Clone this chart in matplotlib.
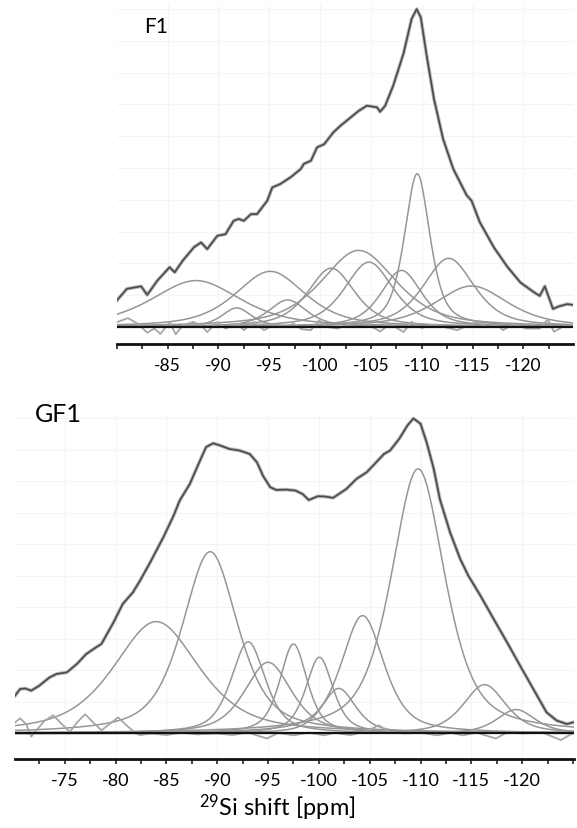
"""
29Si MAS NMR spectra of F1 and GF1 with their peak deconvolution.
"""

import numpy as np
import matplotlib.pyplot as plt
from matplotlib.ticker import FixedLocator, MultipleLocator


# ── F1 : measured spectrum (ppm, intensity, peak max = 100) ─────────────────
F1_ENV_PPM = [-80.0, -81.0, -82.4, -83.0, -84.0, -85.2, -85.7, -86.5, -87.6, -88.3,
              -88.9, -89.9, -90.7, -91.5, -92.0, -92.5, -93.2, -93.8, -94.8, -95.3,
              -96.1, -97.1, -98.1, -98.4, -99.1, -99.7, -100.4, -101.3, -102.0, -103.0,
              -103.8, -104.6, -105.6, -105.9, -106.4, -107.2, -108.2, -109.0, -109.5, -109.9,
              -110.5, -111.2, -112.1, -113.1, -114.4, -114.9, -115.7, -117.1, -118.4, -119.7,
              -121.0, -121.6, -122.1, -122.9, -123.5, -124.3, -125.0]
F1_ENV_INT = [8.3, 12.0, 12.8, 10.1, 14.6, 18.8, 17.2, 20.9, 25.1, 26.6,
              24.5, 28.7, 29.2, 33.4, 34.0, 33.4, 35.5, 35.5, 39.7, 43.9,
              45.0, 47.1, 49.7, 51.3, 52.3, 56.5, 57.5, 61.2, 63.3, 65.9,
              68.0, 69.6, 69.1, 67.7, 69.6, 76.0, 86.0, 96.9, 100.0, 97.4,
              85.0, 71.7, 59.1, 49.7, 41.5, 39.7, 33.0, 25.0, 19.0, 14.0,
              11.0, 9.8, 12.8, 5.7, 6.5, 7.2, 6.9]

# F1 fitted components
F1_PEAK_POS    = [-87.8, -91.8, -95.1, -96.8, -101.1, -103.8, -104.8, -108.0, -109.55, -112.65, -114.9]
F1_PEAK_HEIGHT = [14.6, 6.0, 17.5, 8.5, 18.5, 24.1, 20.4, 17.8, 48.2, 21.6, 12.9]
F1_PEAK_FWHM   = [10.5, 3.5, 8.2, 4.5, 5.5, 8.8, 5.7, 4.8, 3.0, 6.0, 8.5]

# F1 fit residual
F1_RES_PPM = [-80.1, -81.1, -82.1, -83.0, -83.7, -84.3, -85.2, -85.8, -86.5, -87.5,
              -88.3, -88.9, -89.9, -90.7, -91.9, -92.5, -93.5, -94.5, -95.5, -96.4,
              -97.4, -98.2, -99.1, -99.9, -100.7, -101.7, -102.7, -103.3, -104.6, -105.9,
              -106.9, -108.2, -109.0, -110.0, -111.0, -111.8, -113.5, -114.4, -115.4, -116.4,
              -117.4, -118.0, -119.0, -120.3, -121.6, -122.4, -123.0, -124.0, -124.9]
F1_RES_INT = [1.6, 2.8, 1.0, -1.8, -0.5, -2.2, 1.6, -2.3, 0.5, 1.6,
              0.5, -1.6, 1.6, -0.5, 1.0, -1.0, 1.6, -1.0, 1.0, 0.0,
              1.0, -0.7, -1.0, 2.1, 0.0, -0.5, 0.7, 1.6, 1.0, -1.4,
              1.0, -1.6, 1.6, -0.3, 0.7, 0.3, -1.0, 0.3, 1.6, 0.0,
              0.7, -1.0, 1.0, -0.5, -0.5, 2.4, -1.5, 0.3, 0.5]

# ── GF1 : measured spectrum ────────────────────────────────────────────────
GF1_ENV_PPM = [-70.1, -70.6, -71.1, -71.7, -72.5, -73.5, -74.2, -75.2, -76.2, -77.1,
               -78.1, -78.6, -79.8, -80.7, -81.7, -82.4, -83.4, -84.7, -85.7, -86.3,
               -87.3, -88.3, -88.9, -89.6, -90.3, -91.2, -92.2, -93.2, -93.9, -94.5,
               -95.2, -95.8, -96.8, -97.7, -98.4, -99.0, -99.9, -100.6, -101.4, -102.7,
               -103.7, -104.7, -105.5, -106.4, -107.0, -107.9, -108.7, -109.3, -110.0, -110.6,
               -111.3, -111.9, -112.9, -113.9, -114.7, -115.9, -117.2, -118.5, -119.8, -121.1,
               -122.4, -123.4, -124.4, -125.1]
GF1_ENV_INT = [12.0, 14.1, 14.3, 13.6, 15.2, 17.8, 18.9, 19.4, 22.1, 25.2,
               27.4, 28.4, 35.3, 41.1, 44.8, 48.5, 54.3, 62.3, 69.1, 73.9,
               79.2, 86.6, 90.9, 92.1, 91.4, 90.3, 89.8, 88.7, 86.1, 81.8,
               78.2, 77.3, 77.4, 77.1, 76.0, 74.1, 75.3, 75.2, 74.8, 77.6,
               80.8, 82.9, 85.6, 88.7, 89.8, 93.5, 97.7, 100.0, 98.3, 92.4,
               84.0, 74.4, 63.9, 55.4, 50.1, 43.7, 36.3, 29.0, 21.5, 14.1,
               6.7, 4.1, 3.0, 3.6]

# GF1 fitted components
GF1_PEAK_POS    = [-84.0, -89.3, -93.05, -95.0, -97.5, -100.05, -101.95, -104.3, -109.76, -116.3, -119.4]
GF1_PEAK_HEIGHT = [35.5, 57.7, 29.1, 22.6, 28.4, 24.2, 14.3, 37.4, 84.0, 15.5, 7.6]
GF1_PEAK_FWHM   = [10.0, 6.5, 4.0, 5.5, 3.2, 3.2, 4.0, 5.0, 6.3, 5.0, 4.5]

# GF1 fit residual
GF1_RES_PPM = [-70.1, -70.6, -71.2, -71.7, -72.2, -73.0, -73.85, -74.7, -75.5, -76.2,
               -77.0, -77.8, -78.6, -79.4, -80.25, -81.1, -82.0, -82.4, -83.5, -85.0,
               -86.5, -88.0, -90.0, -91.5, -93.0, -94.9, -96.0, -97.5, -99.0, -100.5,
               -101.5, -103.1, -104.5, -105.9, -107.0, -108.5, -110.0, -111.6, -113.0, -114.2,
               -115.5, -117.4, -118.5, -120.0, -122.0, -123.8, -125.1]
GF1_RES_INT = [3.5, 4.8, 3.0, -1.0, 1.0, 4.0, 5.8, 3.0, 0.5, 3.5,
               6.1, 3.5, 1.0, 3.0, 5.1, 2.5, 0.0, -0.5, 0.0, -0.5,
               0.3, -0.3, 0.0, -0.5, 0.3, -1.6, 0.2, -0.6, 0.3, -0.6,
               0.2, -0.5, 0.5, 2.6, 0.3, 0.0, 0.3, -0.6, 0.2, -0.6,
               0.3, -1.6, 0.3, 0.0, 0.3, -2.1, 0.3]

ETA = 0.6   # Lorentzian fraction of the pseudo-Voigt line shape

COLOR_EXP   = '#4a4a4a'
COLOR_FIT   = '#b8b8b8'
COLOR_PEAK  = '#969696'
COLOR_RES   = '#a6a6a6'
COLOR_GRID  = '#f4f4f4'

plt.rcParams['font.family'] = ['Lato', 'DejaVu Sans']
plt.rcParams['axes.unicode_minus'] = False
plt.rcParams['mathtext.default'] = 'regular'


def pseudo_voigt(x, pos, height, fwhm, eta=ETA):
    u = ((x - pos) / fwhm) ** 2
    return height * (eta / (1 + 4 * u) + (1 - eta) * np.exp(-4 * np.log(2) * u))


def draw_panel(ax, env_ppm, env_int, pos, height, fwhm, res_ppm, res_int,
               xlim, ylim, major, label_size):
    x = np.linspace(xlim[0], xlim[1], 1200)

    ax.grid(True, color=COLOR_GRID, linewidth=0.8)
    ax.set_axisbelow(True)

    for p, h, w in zip(pos, height, fwhm):
        ax.plot(x, pseudo_voigt(x, p, h, w), color=COLOR_PEAK, lw=1.1, zorder=2)

    ax.plot(res_ppm, res_int, color=COLOR_RES, lw=1.3, zorder=2)
    ax.axhline(0, color='#111111', lw=1.6, zorder=3)

    # fitted envelope (light) under the measured spectrum (dark)
    ax.plot(env_ppm, env_int, color=COLOR_FIT, lw=2.6, zorder=4)
    ax.plot(env_ppm, env_int, color=COLOR_EXP, lw=1.2, zorder=5)

    ax.set_xlim(*xlim)
    ax.set_ylim(*ylim)
    ax.xaxis.set_major_locator(FixedLocator(major))
    ax.xaxis.set_minor_locator(MultipleLocator(2.5))
    ax.set_yticks(np.arange(10, 101, 10))
    ax.tick_params(axis='y', left=False, labelleft=False)
    ax.tick_params(axis='x', which='both', direction='out', length=3.5,
                   width=1.2, color='#222222', labelsize=label_size, pad=6)

    for side in ('top', 'left', 'right'):
        ax.spines[side].set_visible(False)
    ax.spines['bottom'].set_linewidth(2.0)
    ax.spines['bottom'].set_color('#111111')


def main():
    fig = plt.figure(figsize=(5.77, 8.29), dpi=100)

    ax_top = fig.add_axes([116.7 / 577, 1 - 345 / 829, 456.6 / 577, 340 / 829])
    draw_panel(ax_top, F1_ENV_PPM, F1_ENV_INT,
               F1_PEAK_POS, F1_PEAK_HEIGHT, F1_PEAK_FWHM,
               F1_RES_PPM, F1_RES_INT,
               xlim=(-80.0, -124.9), ylim=(-5.35, 101.6),
               major=np.arange(-85, -121, -5), label_size=12.5)

    ax_bot = fig.add_axes([15 / 577, 1 - 760 / 829, 559 / 577, 345 / 829])
    draw_panel(ax_bot, GF1_ENV_PPM, GF1_ENV_INT,
               GF1_PEAK_POS, GF1_PEAK_HEIGHT, GF1_PEAK_FWHM,
               GF1_RES_PPM, GF1_RES_INT,
               xlim=(-70.1, -125.1), ylim=(-8.1, 101.4),
               major=np.arange(-75, -121, -5), label_size=13)

    fig.text(156.5 / 577, 1 - 27 / 829, 'F1', fontsize=15, ha='center', va='center')
    fig.text(58.5 / 577, 1 - 414 / 829, 'GF1', fontsize=18, ha='center', va='center')
    fig.text(277 / 577, 1 - 808 / 829, '$^{29}$Si shift [ppm]', fontsize=17,
             ha='center', va='center')

    fig.savefig('out.png', dpi=100)


if __name__ == '__main__':
    main()
